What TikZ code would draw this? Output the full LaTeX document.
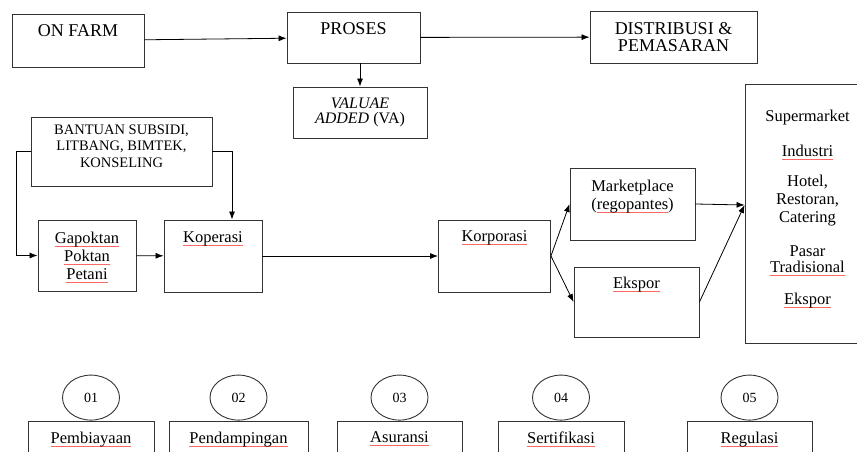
\documentclass[tikz,border=0pt]{standalone}
\usepackage{fontspec}
\setmainfont{Liberation Serif}
\usetikzlibrary{positioning,arrows.meta,shapes.geometric}
\newcommand\fcap{\fontsize{18}{17}\selectfont}
\newcommand\ftxt{\fontsize{16.5}{18}\selectfont}
\newcommand\fval{\fontsize{16}{15}\selectfont}
\newcommand\fsub{\fontsize{14.5}{16.5}\selectfont}
\newcommand\fnum{\fontsize{14}{16}\selectfont}
\newcommand\sq[1]{\setbox0\hbox{#1}\rlap{\color{red!60}\rule[-3pt]{\wd0}{0.5pt}}\box0}
\tikzset{
  box/.style={draw=black!80, line width=0.9pt, inner sep=0pt},
  lbl/.style={anchor=north, inner sep=0pt, yshift=-#1, align=center, font=\ftxt},
  lbl/.default=11pt,
  num/.style={ellipse, draw=black!80, line width=0.9pt, minimum width=57pt, minimum height=45pt, inner sep=0pt, font=\fnum},
  arr/.style={-{Latex[length=8pt,width=6pt]}, line width=0.8pt}
}
\begin{document}
\begin{tikzpicture}[x=1pt,y=-1pt]
    \useasboundingbox (0,0) rectangle (857,452);
    \clip (0,0) rectangle (857,452);

    \node[box, minimum width=132pt, minimum height=53pt, label={[lbl,font=\fcap]north:ON FARM}] (farm) at (78,40.5) {};
    \node[box, minimum width=133pt, minimum height=51pt, label={[lbl,font=\fcap]north:PROSES}] (proses) at (353.5,37.5) {};
    \node[box, minimum width=167pt, minimum height=52pt, label={[lbl=12pt,font=\fcap]north:{DISTRIBUSI \&\\PEMASARAN}}] (distribusi) at (673.5,37) {};
    \node[box, minimum width=134pt, minimum height=51pt, label={[lbl,font=\fval]north:{\textit{VALUAE}\\\textit{ADDED} (VA)}}] (va) at (360,112.5) {};

    \node[box, minimum width=181pt, minimum height=69pt, label={[lbl=8pt,font=\fsub]north:{BANTUAN SUBSIDI,\\LITBANG, BIMTEK,\\KONSELING}}] (bantuan) at (121.5,151.5) {};
    \node[box, minimum width=98pt, minimum height=71pt, label={[lbl=12pt]north:{\sq{Gapoktan}\\\sq{Poktan}\\\sq{Petani}}}] (gapoktan) at (87,255.5) {};
    \node[box, minimum width=98pt, minimum height=72pt, label={[lbl=12pt]north:\sq{Koperasi}}] (koperasi) at (213,256) {};
    \node[box, minimum width=112pt, minimum height=72pt, label={[lbl]north:\sq{Korporasi}}] (korporasi) at (494.5,256) {};
    \node[box, minimum width=125pt, minimum height=72pt, label={[lbl=12pt]north:{Marketplace\\(\sq{regopantes})}}] (mp) at (632.5,204) {};
    \node[box, minimum width=125pt, minimum height=70pt, label={[lbl=10pt]north:\sq{Ekspor}}] (ekspor) at (636.5,302) {};
    \node[box, minimum width=125pt, minimum height=259pt, label={[lbl=26pt]north:{Supermarket\\[17pt]\sq{Industri}\\[12pt]Hotel,\\Restoran,\\Catering\\[16pt]Pasar\\[-2pt]\sq{Tradisional}\\[14pt]\sq{Ekspor}}}] (mkt) at (807.5,213.5) {};
    \coordinate (mktin) at ([yshift=8.5pt]mkt.west);

    \draw[arr] (farm) -- (proses);
    \draw[arr] (proses) -- (distribusi);
    \draw[arr] (va.north |- proses.south) -- (va);
    \draw[arr] (bantuan.west) -- ++(-14,0) |- (gapoktan);
    \draw[arr] (bantuan.east) -| ([xshift=19pt]koperasi.north);
    \draw[arr] (gapoktan) -- (koperasi);
    \draw[arr] (koperasi) -- (korporasi);
    \draw[arr] (korporasi.east) -- (mp.west);
    \draw[arr] (korporasi.east) -- (ekspor.west);
    \draw[arr] (mp.east) -- (mktin);
    \draw[arr] (ekspor.east) -- (mktin);

    \node[box, minimum width=126pt, minimum height=50pt, label={[lbl]north:\sq{Pembiayaan}}] (b1) at (91,446) {};
    \node[box, minimum width=139pt, minimum height=50pt, label={[lbl]north:\sq{Pendampingan}}] (b2) at (238.5,446) {};
    \node[box, minimum width=125pt, minimum height=50pt, label={[lbl]north:\sq{Asuransi}}] (b3) at (399.5,446) {};
    \node[box, minimum width=126pt, minimum height=50pt, label={[lbl]north:\sq{Sertifikasi}}] (b4) at (561,446) {};
    \node[box, minimum width=125pt, minimum height=50pt, label={[lbl]north:\sq{Regulasi}}] (b5) at (749.5,446) {};
    \node[num, above=0pt of b1] (n1) {01};
    \node[num, above=0pt of b2] (n2) {02};
    \node[num, above=0pt of b3] (n3) {03};
    \node[num, above=0pt of b4] (n4) {04};
    \node[num, above=0pt of b5] (n5) {05};
\end{tikzpicture}
\end{document}
